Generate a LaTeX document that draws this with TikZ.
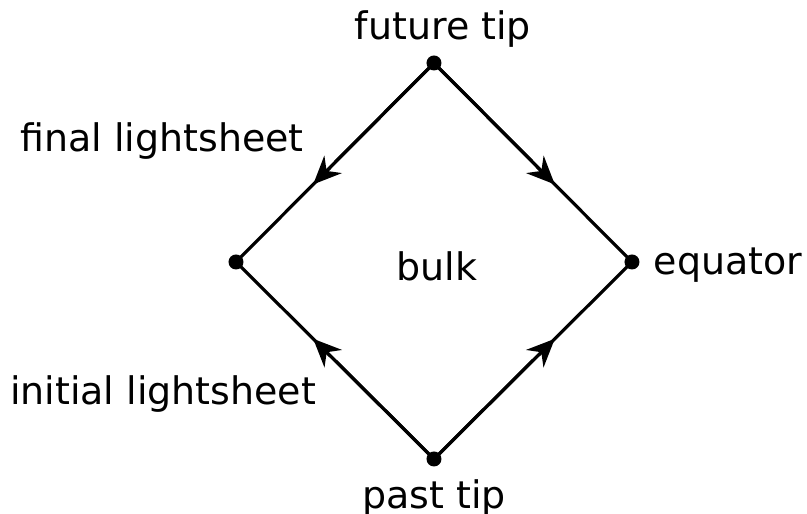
\documentclass[tikz,border=0pt]{standalone}
\usepackage{fontspec}
\setmainfont{DejaVu Sans}
\usepackage{tikz}
\usetikzlibrary{arrows.meta,positioning,calc}
\tikzstyle{dot} = [circle, fill=black, inner sep=0pt, minimum size=0.15cm]
\tikzstyle{label} = [font=\fontsize{10.8pt}{13pt}\selectfont]
\tikzstyle{edge} = [line width=0.9pt]
\tikzstyle{connector} = [-{Stealth[length=8pt,width=7pt]},line width=0.9pt]

\begin{document}
\begin{tikzpicture}
		\useasboundingbox (0,0) rectangle (8.07,5.14);
		
		\node[dot] (top) at (4.34,4.51) {};
		\node[dot] (left) at (2.36,2.52) {};
		\node[dot] (right) at (6.32,2.52) {};
		\node[dot] (bottom) at (4.34,0.55) {};
		
		\draw[edge] (top.center) -- (left.center) -- (bottom.center) -- (right.center) -- cycle;
		\draw[connector] (top.center) -- ($(top)!0.61!(left)$);
		\draw[connector] (top.center) -- ($(top)!0.61!(right)$);
		\draw[connector] (bottom.center) -- ($(bottom)!0.61!(left)$);
		\draw[connector] (bottom.center) -- ($(bottom)!0.61!(right)$);
		
		\node[label] (future) at (4.43,4.85) {future tip};
		\node[label] (past) at (4.34,0.16) {past tip};
		\node[label] (bulk) at (4.37,2.48) {bulk};
		\node[label] (equator) at (7.28,2.49) {equator};
		\node[label] (final) at (1.62,3.73) {final lightsheet};
		\node[label] (initial) at (1.63,1.20) {initial lightsheet};
	\end{tikzpicture}
\end{document}
